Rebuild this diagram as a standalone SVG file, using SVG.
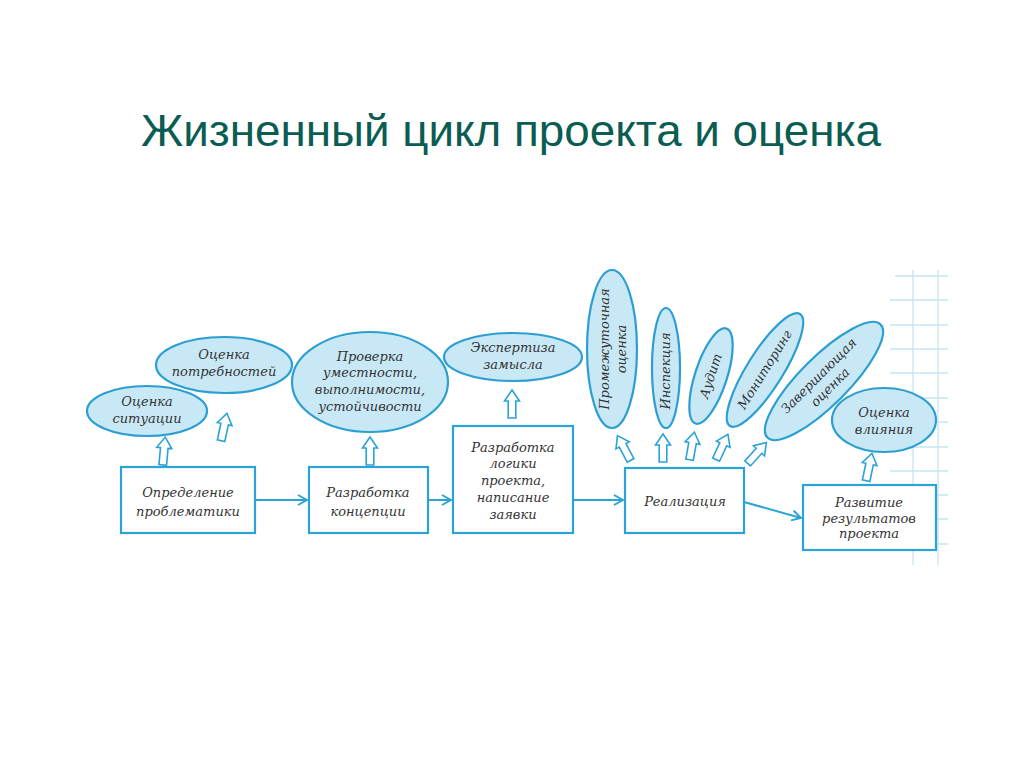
<svg xmlns="http://www.w3.org/2000/svg" width="1024" height="767" viewBox="0 0 1024 767">
<style>
.box{fill:#ffffff;stroke:#2ca3d6;stroke-width:2.2}
.ell{fill:#c9e8f6;stroke:#2b9fd2;stroke-width:2.2}
.t{font-family:"DejaVu Serif","Liberation Serif",serif;font-style:italic;font-size:13px;fill:#333333;text-anchor:middle}
.con{stroke:#2ca3d6;stroke-width:2;fill:none}
.grid{stroke:#c4e4f1;stroke-width:1.3}
.title{font-family:"Liberation Sans",Arial,sans-serif;font-size:45px;fill:#0b5c52;text-anchor:middle}
</style>
<defs>
<marker id="ah" markerWidth="12" markerHeight="12" refX="10" refY="6" orient="auto" markerUnits="userSpaceOnUse">
<path d="M1,1 L10,6 L1,11" fill="none" stroke="#2ca3d6" stroke-width="2"/>
</marker>
<path id="barrow" d="M0,-14 L7.5,-3 L3.8,-3 L3.8,14 L-3.8,14 L-3.8,-3 L-7.5,-3 Z" fill="#ffffff" stroke="#2ca3d6" stroke-width="1.6" stroke-linejoin="miter"/>
</defs>
<rect width="1024" height="767" fill="#ffffff"/>
<text class="title" x="511" y="146" textLength="740" lengthAdjust="spacingAndGlyphs">Жизненный цикл проекта и оценка</text>

<g id="grid">
<line class="grid" x1="913" y1="270" x2="913" y2="565"/>
<line class="grid" x1="938" y1="270" x2="938" y2="565"/>
<line class="grid" x1="895" y1="276" x2="948" y2="276"/>
<line class="grid" x1="890" y1="300" x2="948" y2="300"/>
<line class="grid" x1="890" y1="325" x2="948" y2="325"/>
<line class="grid" x1="890" y1="349" x2="948" y2="349"/>
<line class="grid" x1="890" y1="373" x2="948" y2="373"/>
<line class="grid" x1="890" y1="398" x2="948" y2="398"/>
<line class="grid" x1="890" y1="422" x2="948" y2="422"/>
<line class="grid" x1="890" y1="447" x2="948" y2="447"/>
<line class="grid" x1="890" y1="471" x2="948" y2="471"/>
<line class="grid" x1="890" y1="495" x2="948" y2="495"/>
<line class="grid" x1="890" y1="519" x2="948" y2="519"/>
<line class="grid" x1="890" y1="544" x2="948" y2="544"/>
</g>

<g id="connectors">
<line class="con" x1="255" y1="500" x2="307" y2="500" marker-end="url(#ah)"/>
<line class="con" x1="428" y1="500" x2="451" y2="500" marker-end="url(#ah)"/>
<line class="con" x1="573" y1="500" x2="623" y2="500" marker-end="url(#ah)"/>
<line class="con" x1="744" y1="502" x2="801" y2="518" marker-end="url(#ah)"/>
<use href="#barrow" transform="translate(164,451) rotate(5)"/>
<use href="#barrow" transform="translate(224,427) rotate(12)"/>
<use href="#barrow" transform="translate(370,451)"/>
<use href="#barrow" transform="translate(512,404)"/>
<use href="#barrow" transform="translate(624,448) rotate(-28)"/>
<use href="#barrow" transform="translate(663,448)"/>
<use href="#barrow" transform="translate(692,446) rotate(10)"/>
<use href="#barrow" transform="translate(722,447) rotate(25)"/>
<use href="#barrow" transform="translate(757,453) rotate(42)"/>
<use href="#barrow" transform="translate(869,467) rotate(12)"/>
</g>

<g id="n-opredelenie">
<rect class="box" x="121" y="467" width="134" height="66"/>
<text class="t" x="188" y="497">Определение</text>
<text class="t" x="188" y="516">проблематики</text>
</g>
<g id="n-koncepciya">
<rect class="box" x="309" y="467" width="119" height="66"/>
<text class="t" x="368" y="497">Разработка</text>
<text class="t" x="368" y="516">концепции</text>
</g>
<g id="n-logika">
<rect class="box" x="453" y="426" width="120" height="107"/>
<text class="t" x="513" y="452">Разработка</text>
<text class="t" x="513" y="468">логики</text>
<text class="t" x="513" y="485">проекта,</text>
<text class="t" x="513" y="502">написание</text>
<text class="t" x="513" y="519">заявки</text>
</g>
<g id="n-realizaciya">
<rect class="box" x="625" y="468" width="119" height="65"/>
<text class="t" x="685" y="506">Реализация</text>
</g>
<g id="n-razvitie">
<rect class="box" x="803" y="485" width="133" height="65"/>
<text class="t" x="869" y="507">Развитие</text>
<text class="t" x="869" y="523">результатов</text>
<text class="t" x="869" y="538">проекта</text>
</g>

<g id="e-situacii">
<ellipse class="ell" cx="147" cy="411" rx="60" ry="25"/>
<text class="t" x="147" y="406">Оценка</text>
<text class="t" x="147" y="423">ситуации</text>
</g>
<g id="e-potrebnostei">
<ellipse class="ell" cx="224" cy="365" rx="68" ry="28"/>
<text class="t" x="224" y="359">Оценка</text>
<text class="t" x="224" y="376">потребностей</text>
</g>
<g id="e-proverka">
<ellipse class="ell" cx="370" cy="382" rx="78" ry="50"/>
<text class="t" x="370" y="361">Проверка</text>
<text class="t" x="370" y="377">уместности,</text>
<text class="t" x="370" y="394">выполнимости,</text>
<text class="t" x="370" y="411">устойчивости</text>
</g>
<g id="e-ekspertiza">
<ellipse class="ell" cx="513" cy="357" rx="69" ry="24"/>
<text class="t" x="513" y="352">Экспертиза</text>
<text class="t" x="513" y="369">замысла</text>
</g>
<g id="e-promezhutochnaya">
<ellipse class="ell" cx="612" cy="349" rx="25" ry="79"/>
<g transform="translate(612,349) rotate(-90)">
<text class="t" x="0" y="-3">Промежуточная</text>
<text class="t" x="0" y="14">оценка</text>
</g>
</g>
<g id="e-inspekciya">
<ellipse class="ell" cx="666" cy="368" rx="14" ry="60"/>
<text class="t" transform="translate(666,371) rotate(-90)" x="0" y="4">Инспекция</text>
</g>
<g id="e-audit">
<ellipse class="ell" cx="711" cy="376" rx="16" ry="50" transform="rotate(18 711 376)"/>
<text class="t" transform="translate(711,376) rotate(-72)" x="0" y="4">Аудит</text>
</g>
<g id="e-monitoring">
<ellipse class="ell" cx="765" cy="370" rx="18" ry="66" transform="rotate(32 765 370)"/>
<text class="t" transform="translate(765,370) rotate(-58)" x="0" y="4">Мониторинг</text>
</g>
<g id="e-zavershayushchaya">
<ellipse class="ell" cx="824" cy="381" rx="24" ry="80" transform="rotate(45 824 381)"/>
<g transform="translate(824,381) rotate(-45)">
<text class="t" x="0" y="-3">Завершающая</text>
<text class="t" x="0" y="13">оценка</text>
</g>
</g>
<g id="e-vliyaniya">
<ellipse class="ell" cx="884" cy="420" rx="52" ry="32"/>
<text class="t" x="884" y="417">Оценка</text>
<text class="t" x="884" y="434">влияния</text>
</g>
</svg>
